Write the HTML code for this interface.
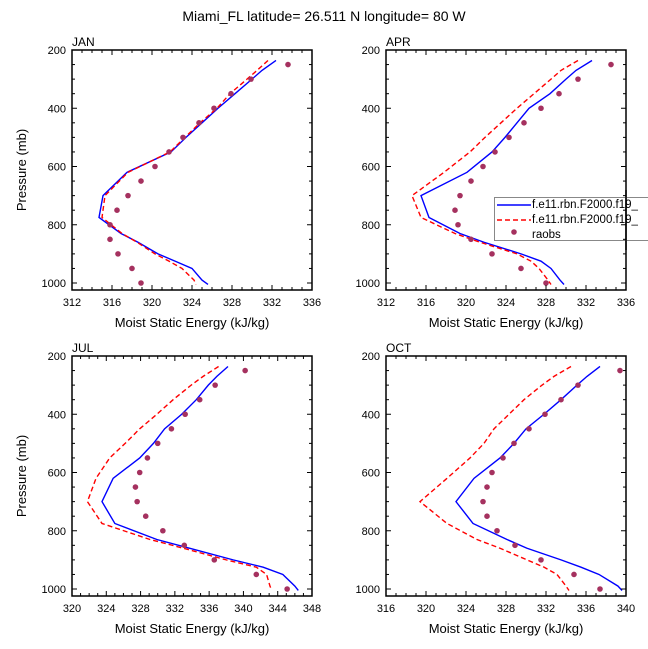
<!DOCTYPE html>
<html><head><meta charset="utf-8"><style>
body{margin:0;background:#fff;}
svg{display:block;font-family:"Liberation Sans",sans-serif;}
</style></head><body>
<svg id="fig" width="648" height="649" viewBox="0 0 648 649" xmlns="http://www.w3.org/2000/svg">
<text x="324" y="21" text-anchor="middle" font-size="14">Miami_FL  latitude= 26.511 N longitude= 80 W</text>
</svg>
<script>
const modelLevels=[236,270,300,350,400,450,500,550,620,700,775,830,860,900,925,950,990,1005];
const obsLevels=[250,300,350,400,450,500,550,600,650,700,750,800,850,900,950,1000];
const panelNames=["JAN","APR","JUL","OCT"];
const janBlue=[332.4,331.0,330.0,328.3,326.6,325.0,323.4,321.9,317.5,315.1,314.7,316.9,318.6,320.6,322.3,324.0,325.0,325.6];
const janRed=[331.6,330.5,329.5,327.8,326.5,324.8,323.3,321.8,317.6,315.3,315.0,317.0,318.5,320.3,321.7,323.0,324.2,324.4];
const janObs=[333.6,329.9,327.9,326.2,324.7,323.1,321.7,320.3,318.9,317.6,316.5,315.8,315.8,316.6,318.0,318.9];
const aprBlue=[332.6,331.0,330.0,328.4,326.3,325.1,323.9,322.6,320.1,315.5,316.3,319.4,321.8,325.5,327.5,328.5,329.4,329.8];
const aprRed=[331.2,329.5,328.5,326.8,325.1,323.5,321.9,320.4,317.8,314.6,315.5,318.9,321.4,325.1,326.5,327.3,328.2,328.5];
const aprObs=[334.5,331.2,329.3,327.5,325.8,324.3,322.9,321.7,320.5,319.4,318.9,319.2,320.5,322.6,325.5,328.0];
const julBlue=[338.2,336.9,335.9,334.5,332.8,330.8,329.5,327.9,324.8,323.5,325.0,329.9,333.7,338.8,342.3,344.6,346.0,346.4];
const julRed=[337.1,335.3,333.9,331.8,329.9,327.9,326.2,324.4,322.8,321.8,323.5,329.1,333.0,338.0,341.5,342.7,343.1,343.3];
const julObs=[340.2,336.7,334.9,333.2,331.6,330.0,328.8,327.9,327.4,327.6,328.6,330.6,333.1,336.6,341.5,345.1];
const octBlue=[337.4,336.1,335.1,333.5,331.8,330.0,328.8,327.4,324.8,323.0,324.7,328.1,330.1,333.5,335.5,337.3,339.2,339.6];
const octRed=[334.5,332.8,331.6,329.8,328.3,326.8,325.8,324.4,322.1,319.4,322.1,325.1,327.4,330.1,331.8,333.1,334.0,334.3];
const octObs=[339.4,335.2,333.5,331.9,330.3,328.8,327.7,326.6,326.1,325.7,326.1,327.1,328.9,331.5,334.8,337.4];
const xMins=[312,312,320,316];
const xMaxs=[336,336,348,340];
const yTicks=[200,400,600,800,1000];

const NS="http://www.w3.org/2000/svg";
const svg=document.getElementById("fig");
function mk(tag,attrs,parent){const e=document.createElementNS(NS,tag);for(const k in attrs)e.setAttribute(k,attrs[k]);(parent||svg).appendChild(e);return e;}
const boxes=[[72,50],[386,50],[72,356],[386,356]];
const W=240,H=240,PMIN=200,PMAX=1024;
const series=[[janBlue,janRed,janObs],[aprBlue,aprRed,aprObs],[julBlue,julRed,julObs],[octBlue,octRed,octObs]];
series.forEach((s,i)=>{
  const [bx,by]=boxes[i];
  const xmin=xMins[i],xmax=xMaxs[i];
  const X=v=>bx+(v-xmin)/(xmax-xmin)*W;
  const Y=p=>by+(p-PMIN)/(PMAX-PMIN)*H;
  const g=mk("g",{});
  
  
  const lab=mk("text",{x:bx,y:by-4,"font-size":12},g);lab.textContent=panelNames[i];
  
  
  // series
  const bl=mk("polyline",{points:modelLevels.map((p,k)=>X(s[0][k])+","+Y(p)).join(" "),fill:"none",stroke:"#0000ff","stroke-width":1.4},g);
  
  
  const rl=mk("polyline",{points:modelLevels.map((p,k)=>X(s[1][k])+","+Y(p)).join(" "),fill:"none",stroke:"#ff0000","stroke-width":1.4,"stroke-dasharray":"5,3"},g);
  
  
  obsLevels.forEach((p,k)=>{
    const c=mk("circle",{cx:X(s[2][k]),cy:Y(p),r:2.8,fill:"#a5315f"},g);
    
    
  });
  // frame
  const fr=mk("rect",{x:bx,y:by,width:W,height:H,fill:"none",stroke:"#000","stroke-width":1.5},g);
  
  
  for(let v=xmin;v<=xmax;v++){
    const maj=(v-xmin)%4===0,L=maj?5:3,x=X(v);
    mk("line",{x1:x,y1:by+H,x2:x,y2:by+H-L,stroke:"#000","stroke-width":1},g);
    mk("line",{x1:x,y1:by,x2:x,y2:by+L,stroke:"#000","stroke-width":1},g);
    if(maj){const t=mk("text",{x:x,y:by+H+16,"text-anchor":"middle","font-size":11},g);t.textContent=v;
      
      }
  }
  for(let p=200;p<=1000;p+=50){
    const maj=p%200===0,L=maj?5:3,y=Y(p);
    mk("line",{x1:bx,y1:y,x2:bx+L,y2:y,stroke:"#000","stroke-width":1},g);
    mk("line",{x1:bx+W,y1:y,x2:bx+W-L,y2:y,stroke:"#000","stroke-width":1},g);
  }
  yTicks.forEach(p=>{const t=mk("text",{x:bx-6,y:Y(p)+4,"text-anchor":"end","font-size":11},g);t.textContent=p;
    
    });
  const xt=mk("text",{x:bx+W/2,y:by+H+37,"text-anchor":"middle","font-size":13},g);xt.textContent="Moist Static Energy (kJ/kg)";
  
  
  if(i%2===0){const yt=mk("text",{x:0,y:0,"text-anchor":"middle","font-size":13,transform:`translate(26,${by+H/2}) rotate(-90)`},g);yt.textContent="Pressure (mb)";
    
    }
});
// legend
const lg=mk("g",{});


mk("rect",{x:494.5,y:197.5,width:170,height:43,fill:"none",stroke:"#888","stroke-width":1},lg);
mk("line",{x1:497,y1:205,x2:531,y2:205,stroke:"#0000ff","stroke-width":1.4},lg);
mk("line",{x1:497,y1:220,x2:531,y2:220,stroke:"#ff0000","stroke-width":1.4,"stroke-dasharray":"5,3"},lg);
mk("circle",{cx:514,cy:232,r:2.8,fill:"#a5315f"},lg);
[["f.e11.rbn.F2000.f19_",209],["f.e11.rbn.F2000.f19_",224],["raobs",239]].forEach(([s,y])=>{
  const t=mk("text",{x:532,y:y-1,"font-size":11.5},lg);t.textContent=s;
  
  
});
mk("line",{x1:626,y1:190,x2:626,y2:250,stroke:"#000","stroke-width":1.5},lg);
</script>
</body></html>
